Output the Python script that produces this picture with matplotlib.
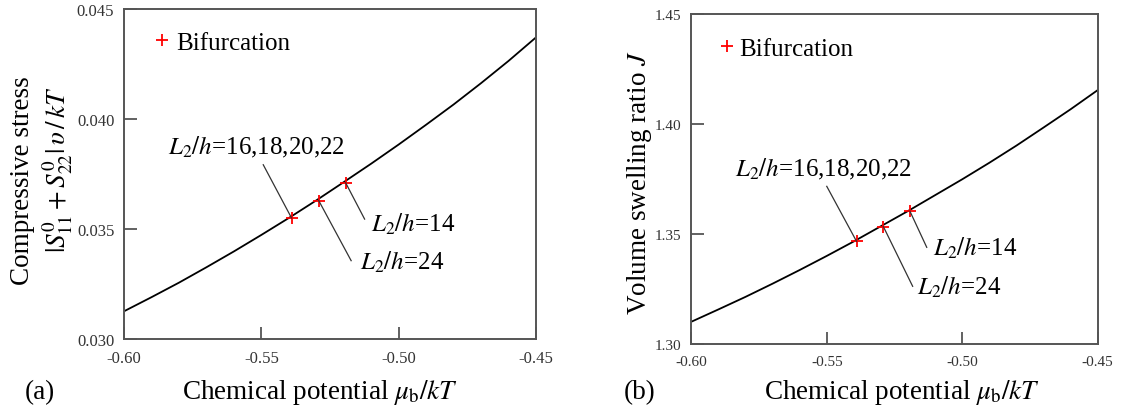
import numpy as np
import matplotlib
matplotlib.use('Agg')
from matplotlib import pyplot as plt

plt.rcParams['font.family'] = ['Liberation Serif', 'DejaVu Serif']
plt.rcParams['mathtext.fontset'] = 'stix'

# chemical potential mu_b/kT (x) sampled along the curves
mu = [-0.60, -0.59, -0.58, -0.57, -0.56, -0.55, -0.54, -0.53,
      -0.52, -0.51, -0.50, -0.49, -0.48, -0.47, -0.46, -0.45]
# (a) compressive stress |S11+S22| v/kT
stress = [0.03126, 0.03190, 0.03256, 0.03326, 0.03398, 0.03473, 0.0355, 0.0363,
          0.03713, 0.03797, 0.03884, 0.03974, 0.04066, 0.04163, 0.04264, 0.04371]
# (b) volume swelling ratio J
swell = [1.3101, 1.3157, 1.3214, 1.3274, 1.3336, 1.3400, 1.3466, 1.3535,
         1.3604, 1.3676, 1.3748, 1.3823, 1.3901, 1.3983, 1.4066, 1.4153]

# bifurcation points
bif_mu = [-0.539, -0.5291, -0.5193]
bif_stress = [0.0355, 0.03629, 0.0371]
bif_swell = [1.3466, 1.3533, 1.3603]

labels = [r'$L_2/h$=16,18,20,22', r'$L_2/h$=24', r'$L_2/h$=14']

fig = plt.figure(figsize=(11.4, 4.14), dpi=100)
W, H = 1140., 414.

axA = fig.add_axes([124 / W, (H - 340) / H, 412 / W, 330 / H])
axB = fig.add_axes([691.3 / W, (H - 345) / H, 406.4 / W, 330.3 / H])


def style_axes(ax, lsize):
    for s in ax.spines.values():
        s.set_color('#555555')
        s.set_linewidth(1.4)
    ax.tick_params(direction='in', length=9, width=1.3, color='#555555',
                   labelsize=lsize, labelcolor='#333333')
    ax.tick_params(axis='y', pad=7)
    ax.tick_params(axis='x', pad=8)
    ax.set_xlim(-0.60, -0.45)
    ax.set_xticks([-0.60, -0.55, -0.50, -0.45])
    ax.set_xticklabels(['-0.60', '-0.55', '-0.50', '-0.45'])


xlab = r'Chemical potential $\mu_{\rm b}/kT$'

# (a)
style_axes(axA, 12)
axA.plot(mu, stress, color='black', lw=1.3)
axA.plot(bif_mu, bif_stress, '+', color='red', ms=8, mew=1.3, label='Bifurcation')
axA.set_ylim(0.030, 0.045)
axA.set_yticks([0.030, 0.035, 0.040, 0.045])
axA.set_yticklabels(['0.030', '0.035', '0.040', '0.045'])
axA.legend(loc='upper left', bbox_to_anchor=(0.05, 0.962), frameon=False,
           fontsize=18, handlelength=0.6, handletextpad=0.25, borderaxespad=0)

# leader lines and labels (a)
axA.plot([-0.5493, bif_mu[0]], [0.03792, bif_stress[0]], color='#333333', lw=0.9)
axA.plot([bif_mu[1], -0.5173], [bif_stress[1], 0.03356], color='#333333', lw=0.9)
axA.plot([bif_mu[2], -0.5124], [bif_stress[2], 0.03545], color='#333333', lw=0.9)
axA.text(-0.5839, 0.03845, labels[0], fontsize=18)
axA.text(-0.5140, 0.03318, labels[1], fontsize=18)
axA.text(-0.5100, 0.03492, labels[2], fontsize=18)

fig.text(320.5 / W, 1 - 399 / H, xlab, fontsize=19.5, ha='center', va='baseline')
fig.text(23 / W, 1 - 181 / H, 'Compressive stress', rotation=90, fontsize=19.5,
         ha='center', va='center')
fig.text(58 / W, 1 - 170 / H, r'$|S^0_{11}+S^0_{22}|\,\upsilon\,/\,kT$', rotation=90,
         fontsize=19.5, ha='center', va='center')
fig.text(40 / W, 1 - 399 / H, '(a)', fontsize=19.5, ha='center', va='baseline')

# (b)
style_axes(axB, 11)
axB.plot(mu, swell, color='black', lw=1.3)
axB.plot(bif_mu, bif_swell, '+', color='red', ms=8, mew=1.3, label='Bifurcation')
axB.set_ylim(1.30, 1.45)
axB.set_yticks([1.30, 1.35, 1.40, 1.45])
axB.set_yticklabels(['1.30', '1.35', '1.40', '1.45'])
axB.legend(loc='upper left', bbox_to_anchor=(0.045, 0.958), frameon=False,
           fontsize=18, handlelength=0.6, handletextpad=0.2, borderaxespad=0)

axB.plot([-0.55, bif_mu[0]], [1.3716, bif_swell[0]], color='#333333', lw=0.9)
axB.plot([bif_mu[1], -0.5183], [bif_swell[1], 1.3262], color='#333333', lw=0.9)
axB.plot([bif_mu[2], -0.5131], [bif_swell[2], 1.3439], color='#333333', lw=0.9)
axB.text(-0.5839, 1.3767, labels[0], fontsize=18)
axB.text(-0.5168, 1.3227, labels[1], fontsize=18)
axB.text(-0.5107, 1.3404, labels[2], fontsize=18)

fig.text(902.5 / W, 1 - 399 / H, xlab, fontsize=19.5, ha='center', va='baseline')
fig.text(639 / W, 1 - 183 / H, r'Volume swelling ratio $J$', rotation=90,
         fontsize=19.5, ha='center', va='center')
fig.text(640 / W, 1 - 399 / H, '(b)', fontsize=19.5, ha='center', va='baseline')

fig.savefig('out.png', dpi=100)
